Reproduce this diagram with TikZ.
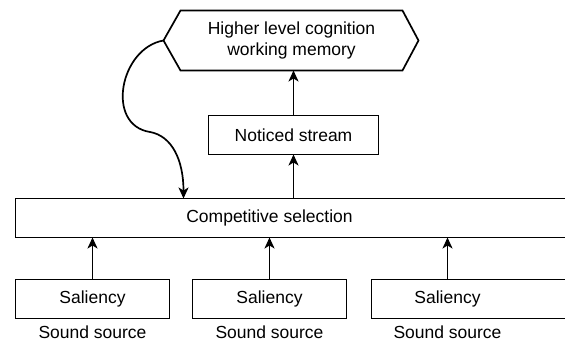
\documentclass[tikz,border=0pt]{standalone}
\usepackage{fontspec}
\setmainfont{Liberation Sans}
\usetikzlibrary{positioning, arrows.meta}

\begin{document}
\begin{tikzpicture}[x=1pt, y=-1pt, line width=1.7pt, >={Stealth[length=11pt, width=10pt, inset=3pt]},
		font=\fontsize{17.5}{21}\selectfont, outer sep=0pt,
		box/.style={draw, rectangle, minimum width=154pt, minimum height=39pt, inner sep=0pt},
		wide/.style={rectangle, minimum height=39pt, inner sep=0pt},
		src/.style={inner sep=1pt}]
		\useasboundingbox (0,0) rectangle (565,344);
		
		\node[wide, minimum width=222pt, minimum height=60pt, align=center] (hex) at (291.5,40.5) {Higher level cognition\\working memory};
		\node[box, minimum width=170pt] (noticed) at (293.5,135) {Noticed stream};
		\node[wide, minimum width=508pt] (comp) at (269.5,218) {Competitive selection};
		\node[box] (sal1) at (92.5,299) {Saliency};
		\node[box] (sal2) at (269.5,299) {Saliency};
		\node[wide, minimum width=152pt] (sal3) at (447.5,299) {Saliency};
		\node[src, below=6pt of sal1] (src1) {Sound source};
		\node[src, below=6pt of sal2] (src2) {Sound source};
		\node[src, below=6pt of sal3] (src3) {Sound source};
		
		\coordinate (hextip) at ([xshift=-17pt]hex.west);
		\coordinate (cue) at (183.5,198.5);
		
		\draw (hex.north west) -- (hex.north east) -- ([xshift=16pt]hex.east) -- (hex.south east)
			-- (hex.south west) -- (hextip) -- cycle;
		\draw (comp.north west) rectangle ([xshift=60pt]comp.south east);
		\draw (sal3.north west) rectangle ([xshift=60pt]sal3.south east);
		
		\draw[->] (sal1) -- (sal1 |- comp.south);
		\draw[->] (sal2) -- (sal2 |- comp.south);
		\draw[->] (sal3) -- (sal3 |- comp.south);
		\draw[->] (noticed |- comp.north) -- (noticed);
		\draw[->] (noticed) -- (noticed |- hex.south);
		\draw[->] (hextip) .. controls (120,48) and (105,125) .. (150,132)
			.. controls (172,136) and (183.5,160) .. (cue);
	\end{tikzpicture}
\end{document}
